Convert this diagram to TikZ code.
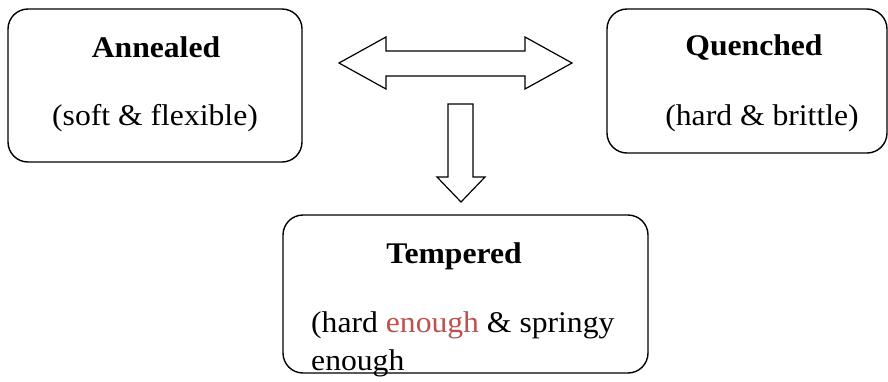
\documentclass[tikz,border=0pt]{standalone}
\usepackage{fontspec}
\setmainfont[FakeStretch=1.055]{Liberation Serif}
\definecolor{accred}{RGB}{192,80,77}
\begin{document}
\begin{tikzpicture}[x=1pt,y=-1pt,
  box/.style={draw, line width=1.4pt, rounded corners=20pt, inner sep=0pt},
  lbl/.style={anchor=base, inner sep=0pt, font=\fontsize{30}{36}\selectfont},
  blockarrow/.style={draw, line width=1.2pt, line join=miter, fill=white}]
\useasboundingbox (0,0) rectangle (888,381);
\node[box, minimum width=294pt, minimum height=153pt] (ann) at (155,85.5) {};
\node[box, minimum width=280pt, minimum height=144pt] (que) at (747,81) {};
\node[box, minimum width=365pt, minimum height=158pt] (tem) at (465.5,294) {};
\node[lbl] (annt) at (156,57) {\textbf{Annealed}};
\node[lbl] (anns) at (155,125) {(soft \& flexible)};
\node[lbl] (quet) at (754,55) {\textbf{Quenched}};
\node[lbl] (ques) at (762,125) {(hard \& brittle)};
\node[lbl] (temt) at (454,263) {\textbf{Tempered}};
\node[lbl, anchor=base west] (tems) at (311,332) {(hard \textcolor{accred}{enough} \& springy};
\node[lbl, anchor=base west] (teme) at (311,370) {enough};
\draw[blockarrow] (339,63) -- (386,37) -- (386,51) -- (525,51) -- (525,37) -- (572,63) -- (525,89) -- (525,76) -- (386,76) -- (386,89) -- cycle;
\draw[blockarrow] (448,104) -- (473,104) -- (473,177) -- (485,177) -- (461,202) -- (437,177) -- (448,177) -- cycle;
\end{tikzpicture}
\end{document}
